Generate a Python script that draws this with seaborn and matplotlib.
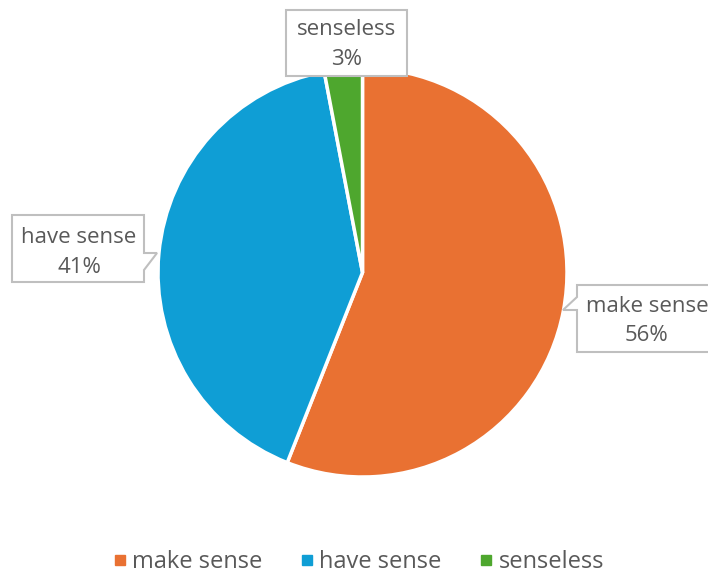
import matplotlib
matplotlib.use('Agg')
import matplotlib.pyplot as plt
import seaborn as sns
from matplotlib.patches import Polygon
from matplotlib.lines import Line2D

categories = ['make sense', 'have sense', 'senseless']
values = [56, 41, 3]
pct_labels = ['56%', '41%', '3%']
colors = ['#E97132', '#0F9ED5', '#4EA72E']

sns.set_theme(style='white')
plt.rcParams['font.family'] = ['Open Sans', 'DejaVu Sans']

TEXT = '#595959'
EDGE = '#BFBFBF'

W, H = 708, 573
fig = plt.figure(figsize=(W / 100, H / 100), dpi=100)
ax = fig.add_axes([0, 0, 1, 1])

S = 204.5          # pixels per data unit (pie radius)
CX, CY = 362.5, 272.5  # pie centre in pixels


def P(px, py):
    return ((px - CX) / S, (CY - py) / S)


wedges, _ = ax.pie(values, colors=sns.color_palette(colors), startangle=90,
                   counterclock=False, radius=1.0, center=(0, 0),
                   wedgeprops=dict(edgecolor='white', linewidth=2.5))
ax.set_xlim(-CX / S, (W - CX) / S)
ax.set_ylim(-(H - CY) / S, CY / S)
ax.set_aspect('equal')
ax.axis('off')

# callout layouts (pixel positions): polygon outline, text centre x, baselines
layouts = {
    'make sense': dict(poly=[(577, 285), (722, 285), (722, 352), (577, 352),
                             (577, 310), (563, 310), (577, 297)],
                       tx=647, base=(312, 341)),
    'have sense': dict(poly=[(12, 215), (144, 215), (144, 253), (157, 253),
                             (144, 270), (144, 282), (12, 282)],
                       tx=79, base=(243, 273)),
    'senseless': dict(poly=[(286, 10), (407, 10), (407, 76), (286, 76)],
                      tx=346.5, base=(35, 65)),
}

for cat, pct in zip(categories, pct_labels):
    lay = layouts[cat]
    poly = Polygon([P(*p) for p in lay['poly']], closed=True,
                   facecolor='white', edgecolor=EDGE, linewidth=1.5, zorder=5)
    ax.add_patch(poly)
    for line, b in zip([cat, pct], lay['base']):
        x, y = P(lay['tx'], b)
        ax.text(x, y, line, ha='center', va='baseline', fontsize=16,
                color=TEXT, zorder=6)

handles = [Line2D([], [], marker='s', linestyle='none', markersize=7.5,
                  color=c) for c in colors]
fig.legend(handles, categories, loc='center', bbox_to_anchor=(0.507, 0.019),
           ncol=3, frameon=False, fontsize=17, labelcolor=TEXT,
           handlelength=0.5, handletextpad=0.28, columnspacing=1.62,
           borderaxespad=0, borderpad=0)

fig.savefig('out.png', dpi=100, facecolor='white')
